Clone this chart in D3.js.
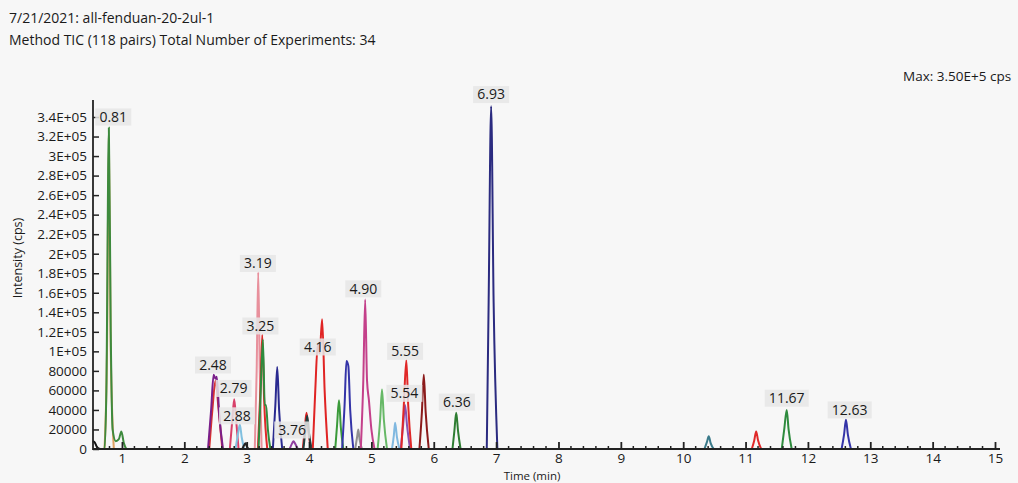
<!DOCTYPE html>
<html>
<head>
<meta charset="utf-8">
<script src="https://cdn.jsdelivr.net/npm/d3@7"></script>
<style>
  body { margin: 0; background: #f7f7f7; }
  svg { display: block; font-family: "Open Sans", "Noto Sans", sans-serif; }
</style>
</head>
<body>
<div id="chart"></div>
<script>
// chromatogram traces, [time (min), intensity (cps)]
var trStart  = [[0.53,8000],[0.56,7000],[0.60,2000],[0.65,0]];
var tr081o   = [[0.72,0],[0.76,100000],[0.79,318000],[0.82,100000],[0.87,0]];
var tr081    = [[0.66,0],[0.72,0],[0.75,60000],[0.79,329000],[0.82,120000],[0.85,20000],[0.90,8000],[0.95,10000],[0.99,18000],[1.03,6000],[1.07,0]];
var tr248r   = [[2.40,0],[2.45,40000],[2.50,70000],[2.55,40000],[2.61,0]];
var tr248    = [[2.38,0],[2.43,40000],[2.47,76000],[2.50,72000],[2.52,74000],[2.56,35000],[2.62,0]];
var tr279    = [[2.73,0],[2.77,30000],[2.80,51000],[2.83,30000],[2.87,0]];
var tr288    = [[2.82,0],[2.86,15000],[2.89,25000],[2.92,12000],[2.96,0]];
var tr297    = [[2.93,0],[2.96,4000],[2.98,6000],[3.00,3000],[3.03,0]];
var tr319    = [[3.13,0],[3.16,80000],[3.185,181000],[3.21,80000],[3.24,0]];
var tr325r   = [[3.18,0],[3.22,60000],[3.25,117000],[3.28,50000],[3.33,0]];
var tr325g   = [[3.19,0],[3.22,50000],[3.26,112000],[3.29,45000],[3.31,45000],[3.34,20000],[3.38,0]];
var tr349    = [[3.42,0],[3.46,45000],[3.49,84000],[3.52,40000],[3.57,0]];
var tr376    = [[3.69,0],[3.73,6000],[3.75,8000],[3.78,5000],[3.82,0]];
var tr395r   = [[3.90,0],[3.93,20000],[3.96,37000],[3.99,18000],[4.03,0]];
var tr395k   = [[3.91,0],[3.94,18000],[3.97,34000],[4.00,16000],[4.04,0]];
var tr416    = [[4.06,0],[4.10,60000],[4.14,107000],[4.17,98000],[4.21,133000],[4.25,60000],[4.30,0]];
var tr448    = [[4.42,0],[4.45,25000],[4.48,50000],[4.51,22000],[4.55,0]];
var tr461    = [[4.53,0],[4.57,45000],[4.60,90000],[4.63,85000],[4.66,40000],[4.71,0]];
var tr479    = [[4.74,0],[4.77,12000],[4.79,20000],[4.81,10000],[4.85,0]];
var tr490    = [[4.83,0],[4.87,70000],[4.90,153000],[4.93,70000],[4.96,50000],[5.00,20000],[5.05,0]];
var tr517    = [[5.10,0],[5.14,30000],[5.17,61000],[5.20,30000],[5.25,0]];
var tr538    = [[5.33,0],[5.36,14000],[5.38,27000],[5.41,12000],[5.45,0]];
var tr554    = [[5.47,0],[5.51,25000],[5.54,45000],[5.57,25000],[5.62,0]];
var tr555    = [[5.48,0],[5.52,45000],[5.56,91000],[5.59,45000],[5.64,0]];
var tr584    = [[5.77,0],[5.81,38000],[5.84,76000],[5.87,38000],[5.92,0]];
var tr636    = [[6.30,0],[6.33,18000],[6.36,37000],[6.39,18000],[6.43,0]];
var tr693    = [[6.85,0],[6.88,150000],[6.92,351000],[6.96,150000],[7.02,0]];
var tr1041   = [[10.34,0],[10.38,7000],[10.41,13000],[10.44,6000],[10.49,0]];
var tr1117   = [[11.10,0],[11.14,9000],[11.17,18000],[11.20,9000],[11.25,0]];
var tr1166   = [[11.58,0],[11.62,20000],[11.66,40000],[11.69,20000],[11.74,0]];
var tr1261   = [[12.54,0],[12.58,15000],[12.61,30000],[12.64,15000],[12.69,0]];

var traces = [trStart, tr081o, tr081, tr248r, tr248, tr279, tr288, tr297, tr319, tr325r, tr325g,
  tr349, tr376, tr395r, tr395k, tr416, tr448, tr461, tr479, tr490, tr517, tr538, tr554, tr555,
  tr584, tr636, tr693, tr1041, tr1117, tr1166, tr1261];
var traceColors = ["#111111","#e0a060","#3d8a3d","#d83030","#7a1f8a","#d8406a","#80c0e0","#222222","#e8909c","#e02828","#2e8b3e",
  "#2a2a90","#9040a0","#d82020","#204040","#e02424","#3a9a3a","#3434a8","#909090","#c4408a","#66b866","#80b8e0","#8a50b0","#e02828",
  "#8b1a1a","#2e7d32","#2b2b80","#3a7a8a","#e02828","#2e8b3e","#3434a8"];

// peak labels: text, placement time, placement intensity
var labelTexts = ["0.81","2.48","2.79","2.88","3.19","3.25","3.76","4.16","4.90","5.55","5.54","6.36","6.93","11.67","12.63"];
var labelTimes = [0.86, 2.46, 2.79, 2.845, 3.18, 3.22, 3.73, 4.14, 4.87, 5.54, 5.53, 6.37, 6.92, 11.66, 12.67];
var labelVals  = [340000, 86000, 62000, 34000, 190000, 126000, 19500, 104500, 164000, 100000, 57000, 48000, 363000, 52000, 40000];

var yTickVals   = [0,20000,40000,60000,80000,100000,120000,140000,160000,180000,200000,220000,240000,260000,280000,300000,320000,340000];
var yTickLabels = ["0","20000","40000","60000","80000","1E+05","1.2E+05","1.4E+05","1.6E+05","1.8E+05","2E+05","2.2E+05","2.4E+05","2.6E+05","2.8E+05","3E+05","3.2E+05","3.4E+05"];
var xTickVals   = [1,2,3,4,5,6,7,8,9,10,11,12,13,14,15];

var width = 1018, height = 483;

var svg = d3.select("#chart").append("svg")
  .attr("width", width).attr("height", height);

svg.append("rect").attr("width", width).attr("height", height).attr("fill", "#f7f7f7");

var x = d3.scaleLinear().domain([0, 15]).range([59.6, 995]);
var y = d3.scaleLinear().domain([0, 340000]).range([449, 117]);

// titles
svg.append("text").attr("x", 9).attr("y", 23).attr("font-size", 14).attr("fill", "#1a1a1a")
  .text("7/21/2021: all-fenduan-20-2ul-1");
svg.append("text").attr("x", 9).attr("y", 45).attr("font-size", 14).attr("fill", "#1a1a1a")
  .text("Method TIC (118 pairs) Total Number of Experiments: 34");
svg.append("text").attr("x", 903).attr("y", 81).attr("font-size", 13.5).attr("fill", "#1a1a1a")
  .text("Max: 3.50E+5 cps");

// traces
var line = d3.line()
  .x(function(d){ return x(d[0]); })
  .y(function(d){ return y(d[1]); })
  .curve(d3.curveMonotoneX);

svg.append("g").selectAll("path")
  .data(traces)
  .enter()
  .append("path")
  .attr("d", line)
  .attr("fill", "none")
  .attr("stroke", function(d, i){ return traceColors[i]; })
  .attr("stroke-width", 2);

// axes
var axisX0 = 93, axisX1 = 1000;
var t0 = x.invert(axisX0), t1 = x.invert(axisX1);

var yAxis = d3.axisLeft(y).tickValues(yTickVals).tickSize(0).tickPadding(6)
  .tickFormat(function(d, i){ return yTickLabels[i]; });
var gy = svg.append("g").attr("transform", "translate(" + axisX0 + ",0)").call(yAxis);
gy.select(".domain").remove();
gy.selectAll(".tick text").attr("font-size", 13.5).attr("fill", "#1a1a1a").attr("font-family", "Open Sans, sans-serif");
gy.selectAll(".tick").append("line").attr("x1", 0).attr("x2", 6).attr("stroke", "#222").attr("stroke-width", 1.5);
gy.append("line").attr("x1", 0).attr("x2", 0).attr("y1", 100).attr("y2", 450).attr("stroke", "#222").attr("stroke-width", 1.8);

var xAxis = d3.axisBottom(x).tickValues(xTickVals).tickSize(0).tickPadding(4).tickFormat(d3.format("d"));
var gx = svg.append("g").attr("transform", "translate(0,449)").call(xAxis);
gx.select(".domain").remove();
gx.selectAll(".tick text").attr("font-size", 13.5).attr("fill", "#1a1a1a").attr("font-family", "Open Sans, sans-serif");
gx.selectAll(".tick").append("line").attr("y1", 0).attr("y2", -7).attr("stroke", "#222").attr("stroke-width", 1.8);

var minorTicks = d3.range(Math.ceil(t0 * 5), Math.floor(t1 * 5) + 1)
  .map(function(k){ return k / 5; })
  .filter(function(t){ return Math.abs(t - Math.round(t)) > 0.01; });
gx.selectAll(".minor").data(minorTicks).enter().append("line")
  .attr("class", "minor")
  .attr("x1", function(d){ return x(d); }).attr("x2", function(d){ return x(d); })
  .attr("y1", 0).attr("y2", -3).attr("stroke", "#222").attr("stroke-width", 1.5);
gx.append("line").attr("x1", axisX0).attr("x2", axisX1).attr("y1", 0).attr("y2", 0)
  .attr("stroke", "#222").attr("stroke-width", 1.8);

// axis titles
svg.append("text").attr("transform", "translate(22,258) rotate(-90)")
  .attr("text-anchor", "middle").attr("font-size", 12.5).attr("fill", "#1a1a1a")
  .text("Intensity (cps)");
svg.append("text").attr("x", 532).attr("y", 480).attr("text-anchor", "middle")
  .attr("font-size", 11.5).attr("fill", "#1a1a1a").text("Time (min)");

// peak labels
var labels = svg.append("g").selectAll("g")
  .data(labelTexts)
  .enter()
  .append("g")
  .attr("transform", function(d, i){ return "translate(" + x(labelTimes[i]) + "," + y(labelVals[i]) + ")"; });
labels.append("rect")
  .attr("x", function(d){ return -d.length * 4 - 2; })
  .attr("y", -8.5).attr("height", 17)
  .attr("width", function(d){ return d.length * 8 + 4; })
  .attr("fill", "#e6e6e6").attr("opacity", 0.85);
labels.append("text")
  .attr("text-anchor", "middle").attr("dy", "0.35em")
  .attr("font-size", 14).attr("fill", "#1a1a1a")
  .text(function(d){ return d; });
</script>
</body>
</html>
